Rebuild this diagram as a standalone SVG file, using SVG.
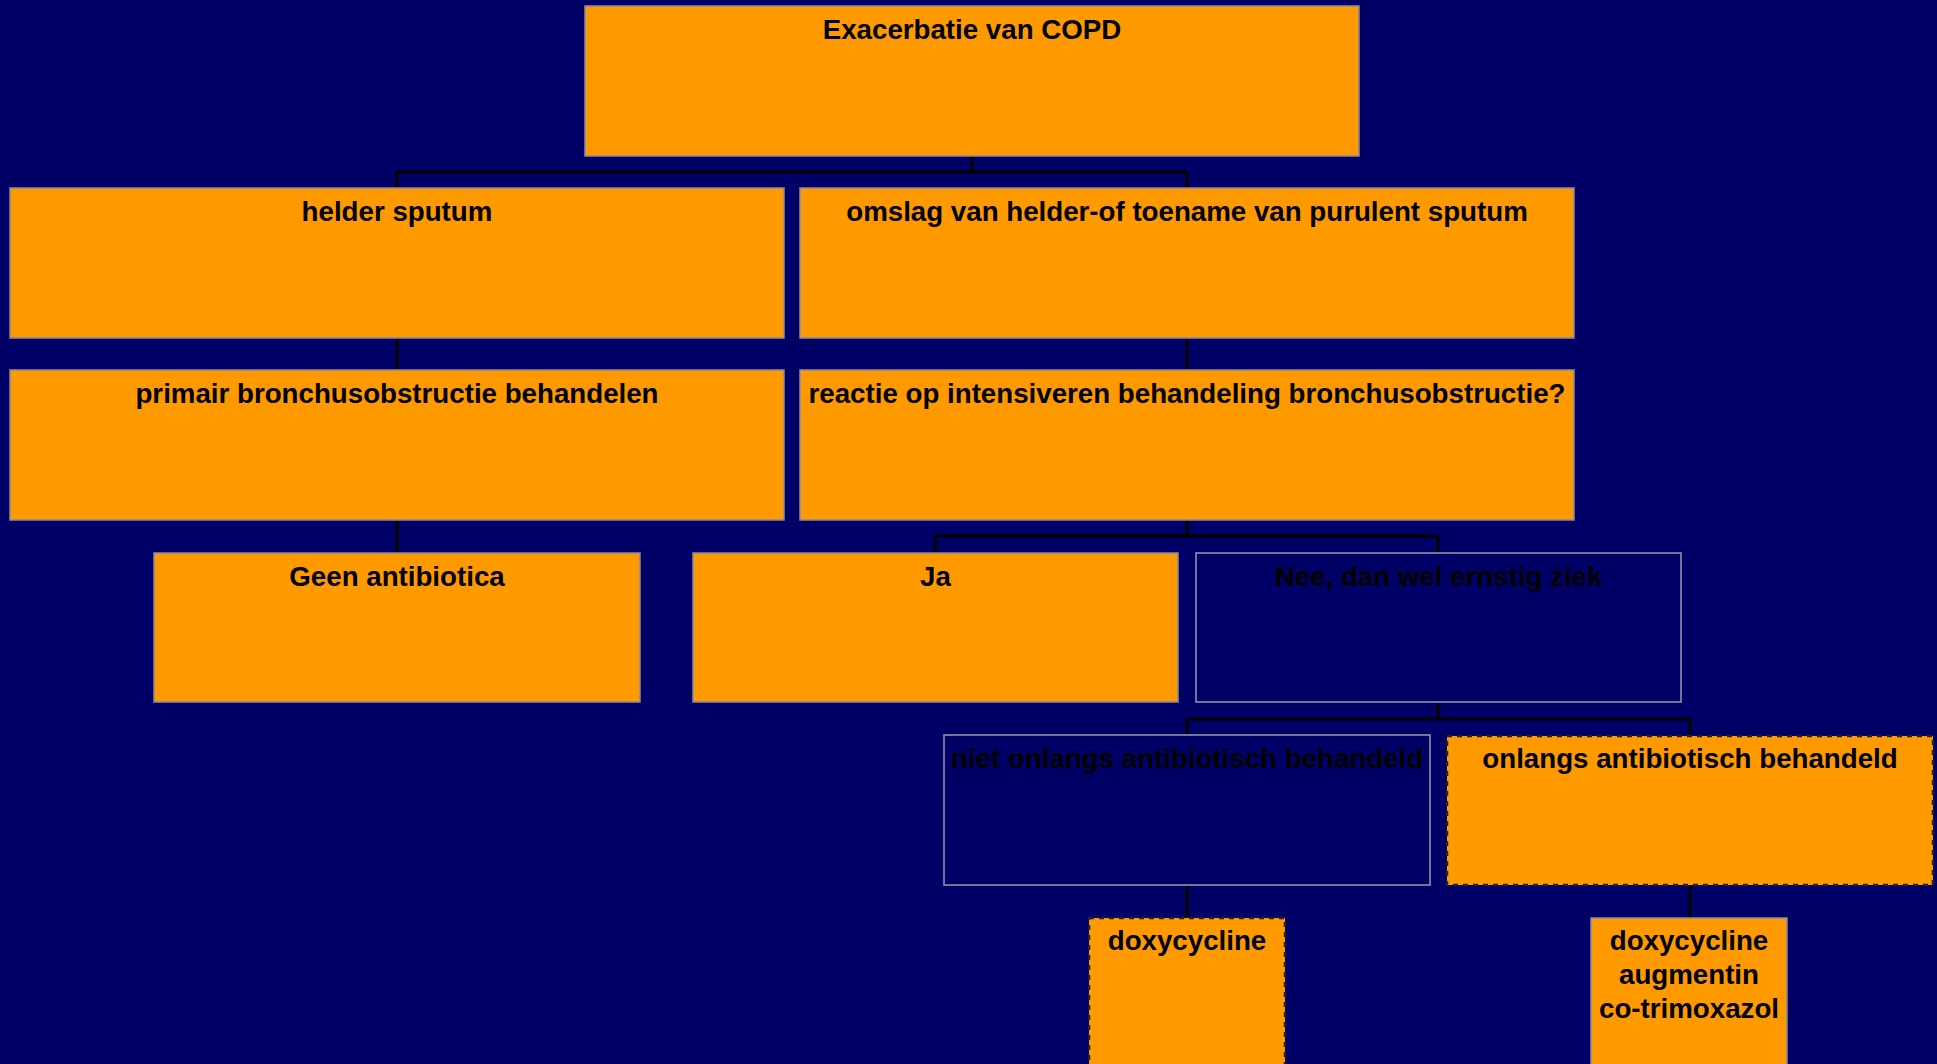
<svg xmlns="http://www.w3.org/2000/svg" width="1937" height="1064" viewBox="0 0 1937 1064">
<style>
.bg{fill:#000066}
.box{fill:#FF9900;stroke:#8a8aa0;stroke-width:1.5}
.nbox{fill:#000066;stroke:#9a9aaa;stroke-width:1.5}
.dbox{fill:#FF9900;stroke:#222233;stroke-width:2.5;stroke-dasharray:5 5}
.conn{fill:none;stroke:#000000;stroke-width:3}
text{font-family:"Liberation Sans",Arial,sans-serif;font-weight:bold;font-size:27.7px;fill:#000000;text-anchor:middle}
</style>
<rect class="bg" x="0" y="0" width="1937" height="1064"/>
<g id="connectors">
<path class="conn" d="M972 156V172M397 172H1187M397 172V188M1187 172V188"/>
<path class="conn" d="M397 338V370M1187 338V370"/>
<path class="conn" d="M397 520V553"/>
<path class="conn" d="M1187 520V536M935 536H1438M935 536V553M1438 536V553"/>
<path class="conn" d="M1438 702V719M1187 719H1690M1187 719V735M1690 719V736"/>
<path class="conn" d="M1187 885V918M1690 885V918"/>
</g>
<g id="n-copd"><rect class="box" x="585" y="6" width="774" height="150"/><text x="972" y="39">Exacerbatie van COPD</text></g>
<g id="n-helder"><rect class="box" x="10" y="188" width="774" height="150"/><text x="397" y="221">helder sputum</text></g>
<g id="n-omslag"><rect class="box" x="800" y="188" width="774" height="150"/><text x="1187" y="221">omslag van helder-of toename van purulent sputum</text></g>
<g id="n-primair"><rect class="box" x="10" y="370" width="774" height="150"/><text x="397" y="403">primair bronchusobstructie behandelen</text></g>
<g id="n-reactie"><rect class="box" x="800" y="370" width="774" height="150"/><text x="1187" y="403">reactie op intensiveren behandeling bronchusobstructie?</text></g>
<g id="n-geen"><rect class="box" x="154" y="553" width="486" height="149"/><text x="397" y="586">Geen antibiotica</text></g>
<g id="n-ja"><rect class="box" x="693" y="553" width="485" height="149"/><text x="935.5" y="586">Ja</text></g>
<g id="n-nee"><rect class="nbox" x="1196" y="553" width="485" height="149"/><text x="1438.5" y="586">Nee, dan wel ernstig ziek</text></g>
<g id="n-niet"><rect class="nbox" x="944" y="735" width="486" height="150"/><text x="1187" y="768">niet onlangs antibiotisch behandeld</text></g>
<g id="n-onlangs"><rect class="dbox" x="1447" y="736" width="486" height="149"/><text x="1690" y="768">onlangs antibiotisch behandeld</text></g>
<g id="n-doxy"><rect class="dbox" x="1089" y="918" width="196" height="160"/><text x="1187" y="950">doxycycline</text></g>
<g id="n-doxy2"><rect class="box" x="1591" y="918" width="196" height="160"/><text x="1689" y="950">doxycycline</text><text x="1689" y="984">augmentin</text><text x="1689" y="1018">co-trimoxazol</text></g>
</svg>
